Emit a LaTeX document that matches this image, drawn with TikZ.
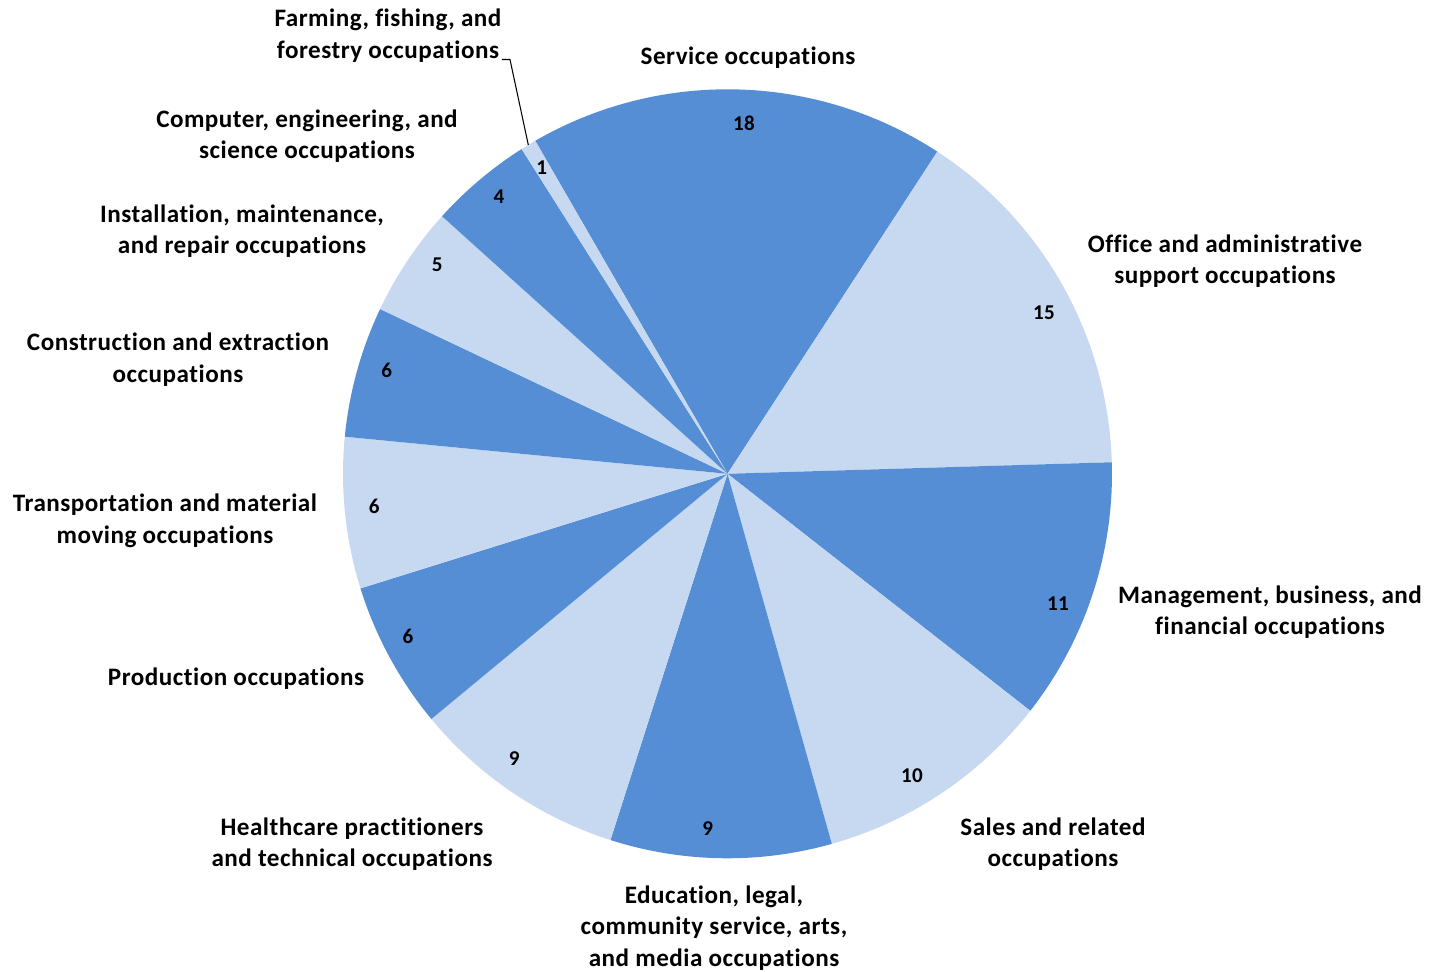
\documentclass[tikz,border=0pt]{standalone}
\usepackage{fontspec}
\setmainfont[LetterSpace=2.0,Ligatures=NoCommon]{Carlito}
\usepackage{tikz}
\definecolor{darkpie}{HTML}{558ED5}
\definecolor{lightpie}{HTML}{C6D9F1}

\begin{document}
\begin{tikzpicture}[x=0.02cm,y=0.02cm, lbl/.style={align=center,inner sep=0pt,font=\bfseries\fontsize{14.3}{17.9}\selectfont}, num/.style={inner sep=0pt,font=\bfseries\fontsize{12}{13}\selectfont}]
\useasboundingbox (-727.5,-497.2) rectangle (703.5,473.8);
\coordinate (c) at (0,0);
% slices, clockwise from service occupations
\foreach \a/\b/\col in {120/56.92/darkpie, 56.92/1.72/lightpie, 1.72/-38.05/darkpie, -38.05/-74.25/lightpie, -74.25/-107.72/darkpie, -107.72/-140.37/lightpie, -140.37/-162.66/darkpie, -162.66/-185.54/lightpie, -185.54/-205.38/darkpie, -205.38/-222.06/lightpie, -222.06/-237.63/darkpie, -237.63/-240/lightpie}
   \fill[\col] (c) -- (\a:384.5) arc[start angle=\a, end angle=\b, radius=384.5] -- cycle;
% values
\node[num] (n18) at (16.5,350.5) {18};
\node[num] (n15) at (316.5,160.8) {15};
\node[num] (n11) at (330.5,-130.2) {11};
\node[num] (n10) at (184.5,-302.2) {10};
\node[num] (n9a) at (-19.8,-355.2) {9};
\node[num] (n9b) at (-213.2,-285.2) {9};
\node[num] (n6a) at (-319.5,-162.2) {6};
\node[num] (n6b) at (-353.2,-32.9) {6};
\node[num] (n6c) at (-340.8,103.1) {6};
\node[num] (n5) at (-290.2,208.8) {5};
\node[num] (n4) at (-228.5,277.1) {4};
\node[num] (n1) at (-185.8,306.5) {1};
% labels
\node[lbl] (farm) at (-339.5,438) {Farming, fishing, and\\forestry occupations};
\node[lbl] (serv) at (20.5,415.8) {Service occupations};
\node[lbl] (office) at (497.5,212.8) {Office and administrative\\support occupations};
\node[lbl] (mgmt) at (542.5,-138.2) {Management, business, and\\financial occupations};
\node[lbl] (sales) at (325.5,-370.2) {Sales and related\\occupations};
\node[lbl] (edu) at (-13.5,-454.2) {Education, legal,\\community service, arts,\\and media occupations};
\node[lbl] (health) at (-375.5,-370.2) {Healthcare practitioners\\and technical occupations};
\node[lbl] (prod) at (-491.5,-205.2) {Production occupations};
\node[lbl] (trans) at (-562.5,-47.2) {Transportation and material\\moving occupations};
\node[lbl] (constr) at (-549.5,114.3) {Construction and extraction\\occupations};
\node[lbl] (inst) at (-485.5,242.8) {Installation, maintenance,\\and repair occupations};
\node[lbl] (comp) at (-420.5,337.8) {Computer, engineering, and\\science occupations};
% leader line to the thin slice
\coordinate (farmbend) at (-217.5,414.3);
\coordinate (farmtip) at (121.2:384.5);
\draw[semithick] (farm.east |- farmbend) -- (farmbend) -- (farmtip);
\end{tikzpicture}
\end{document}
